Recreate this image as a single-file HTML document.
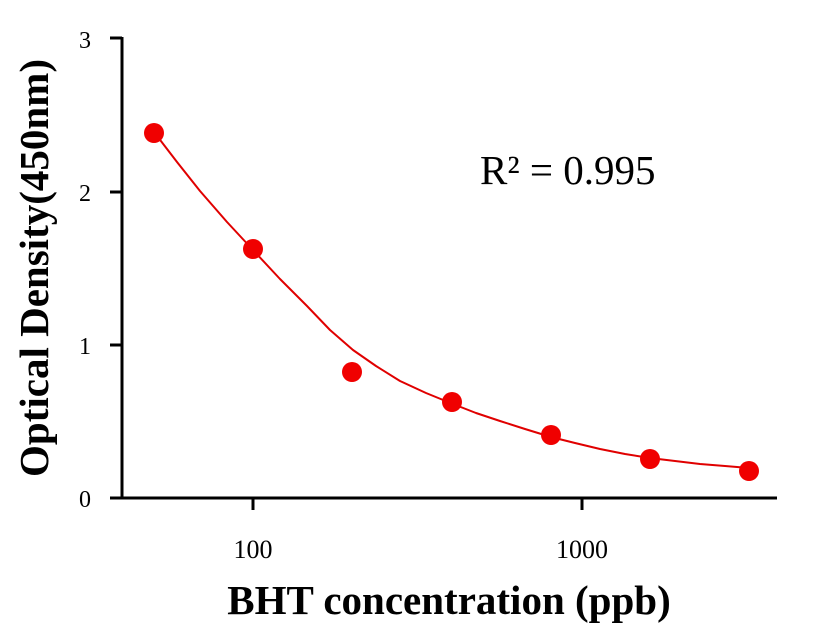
<!DOCTYPE html>
<html><head><meta charset="utf-8"><style>
html,body{margin:0;padding:0;background:#fff;}
svg{display:block;}
</style></head><body>
<svg width="816" height="640" viewBox="0 0 816 640" xmlns="http://www.w3.org/2000/svg" font-family="Liberation Serif, serif">
<rect width="816" height="640" fill="#fff"/>
<g stroke="#000" stroke-width="3" fill="none">
<line x1="122" y1="37" x2="122" y2="499"/>
<line x1="120.5" y1="498" x2="777" y2="498"/>
<line x1="110" y1="38" x2="122" y2="38"/>
<line x1="110" y1="192" x2="122" y2="192"/>
<line x1="110" y1="345" x2="122" y2="345"/>
<line x1="110" y1="498" x2="122" y2="498"/>
<line x1="253" y1="498" x2="253" y2="510"/>
<line x1="582" y1="498" x2="582" y2="510"/>
</g>
<g font-size="24" text-anchor="end" fill="#000">
<text x="91" y="48">3</text>
<text x="91" y="201">2</text>
<text x="91" y="354">1</text>
<text x="91" y="507">0</text>
</g>
<g font-size="26" text-anchor="middle" fill="#000">
<text x="253" y="558">100</text>
<text x="582" y="558">1000</text>
</g>
<text x="449" y="614" font-size="41" font-weight="bold" text-anchor="middle">BHT concentration (ppb)</text>
<text transform="translate(48,268) rotate(-90)" font-size="41" font-weight="bold" text-anchor="middle">Optical Density(450nm)</text>
<text x="480" y="184" font-size="41">R² = 0.995</text>
<polyline points="154,132 177,162 200,191 227,222 253,250 280,279 307,306 330,330 353,350 376,366 400,381 426,393 453,404 476,413 500,421 525,429 551,437 575,443 600,449 625,454 650,458 675,461 700,464 725,466 749,468" stroke="#e00000" stroke-width="2" fill="none" stroke-linejoin="round"/>
<g fill="#f00000">
<circle cx="154" cy="133" r="10"/>
<circle cx="253" cy="249" r="10"/>
<circle cx="352" cy="372" r="10"/>
<circle cx="452" cy="402" r="10"/>
<circle cx="551" cy="435" r="10"/>
<circle cx="650" cy="459" r="10"/>
<circle cx="749" cy="471" r="10"/>
</g>
</svg>
</body></html>
